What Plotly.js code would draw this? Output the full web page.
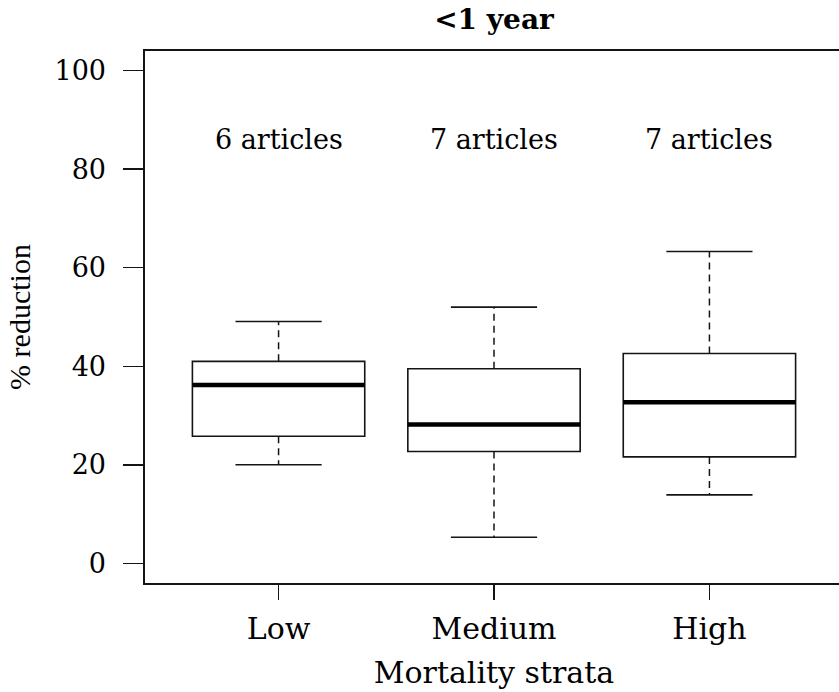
<!DOCTYPE html>
<html>
<head>
<meta charset="utf-8">
<script src="https://cdn.plot.ly/plotly-3.0.1.min.js"></script>
<style>
  html, body { margin: 0; padding: 0; overflow: hidden; background: #fff; }
  #chart { width: 850px; height: 692px; }
</style>
</head>
<body>
<div id="chart"></div>
<script>
// Percentage reduction by mortality stratum (<1 year)
const strata = ['Low', 'Medium', 'High'];
const articleCounts = [6, 7, 7];
const lowerWhisker = [20.0, 5.3, 13.9];
const q1Values = [25.8, 22.7, 21.6];
const medianValues = [36.2, 28.2, 32.7];
const q3Values = [41.0, 39.5, 42.6];
const upperWhisker = [49.1, 52.0, 63.3];
const yTicks = [0, 20, 40, 60, 80, 100];

const positions = strata.map((_, i) => i + 1);
const boxWidth = 0.8;
const capHalf = 0.2;
const ink = '#141414';
const serif = 'DejaVu Serif, serif';

// Boxes (quartile bodies); whiskers are drawn separately as dashed lines
const boxes = {
  type: 'box',
  x: positions,
  q1: q1Values,
  median: medianValues,
  q3: q3Values,
  lowerfence: q1Values,
  upperfence: q3Values,
  width: boxWidth,
  whiskerwidth: 0,
  boxpoints: false,
  fillcolor: 'rgba(255,255,255,0)',
  line: { color: ink, width: 1.6 },
  hoverinfo: 'skip',
  showlegend: false
};

// Dashed whiskers from the box edges to the extremes
const wx = [], wy = [];
positions.forEach((p, i) => {
  wx.push(p, p, null, p, p, null);
  wy.push(q3Values[i], upperWhisker[i], null, q1Values[i], lowerWhisker[i], null);
});
const whiskers = {
  type: 'scatter', mode: 'lines', x: wx, y: wy,
  line: { color: ink, width: 1.5, dash: '7px,5px' },
  hoverinfo: 'skip', showlegend: false
};

// Whisker end caps
const cx = [], cy = [];
positions.forEach((p, i) => {
  cx.push(p - capHalf, p + capHalf, null, p - capHalf, p + capHalf, null);
  cy.push(upperWhisker[i], upperWhisker[i], null, lowerWhisker[i], lowerWhisker[i], null);
});
const caps = {
  type: 'scatter', mode: 'lines', x: cx, y: cy,
  line: { color: ink, width: 1.6 },
  hoverinfo: 'skip', showlegend: false
};

// Heavy median bars
const mx = [], my = [];
positions.forEach((p, i) => {
  mx.push(p - boxWidth / 2, p + boxWidth / 2, null);
  my.push(medianValues[i], medianValues[i], null);
});
const medians = {
  type: 'scatter', mode: 'lines', x: mx, y: my,
  line: { color: '#000', width: 4.5 },
  hoverinfo: 'skip', showlegend: false
};

const countLabels = positions.map((p, i) => ({
  x: p, y: 86, xref: 'x', yref: 'y',
  text: articleCounts[i] + ' articles',
  showarrow: false,
  font: { family: serif, size: 27, color: '#000' }
}));

const layout = {
  width: 850,
  height: 692,
  margin: { l: 145, r: 7, t: 51, b: 109 },
  paper_bgcolor: '#fff',
  plot_bgcolor: '#fff',
  title: {
    text: '<b><1 year</b>',
    font: { family: serif, size: 28, color: '#000' },
    xref: 'paper', x: 0.5,
    yref: 'container', y: 0.972, yanchor: 'middle'
  },
  xaxis: {
    range: [0.38, 3.62],
    tickmode: 'array',
    tickvals: positions,
    ticktext: strata,
    ticks: 'outside', ticklen: 15, tickwidth: 1.5, tickcolor: ink,
    ticklabelstandoff: 3,
    tickfont: { family: serif, size: 30, color: '#000' },
    showline: true, mirror: true, linecolor: ink, linewidth: 1.6,
    showgrid: false, zeroline: false,
    title: {
      text: 'Mortality strata',
      font: { family: serif, size: 30, color: '#000' },
      standoff: 17
    }
  },
  yaxis: {
    range: [-4, 104],
    tickmode: 'array',
    tickvals: yTicks,
    ticks: 'outside', ticklen: 20, tickwidth: 1.5, tickcolor: ink,
    ticklabelstandoff: 12,
    tickfont: { family: serif, size: 27, color: '#000' },
    showline: true, mirror: true, linecolor: ink, linewidth: 1.6,
    showgrid: false, zeroline: false,
    title: {
      text: '% reduction',
      font: { family: 'Liberation Serif, serif', size: 30, color: '#000' },
      standoff: 15
    }
  },
  annotations: countLabels
};

Plotly.newPlot('chart', [boxes, whiskers, caps, medians], layout, { staticPlot: true, displayModeBar: false });
</script>
</body>
</html>
